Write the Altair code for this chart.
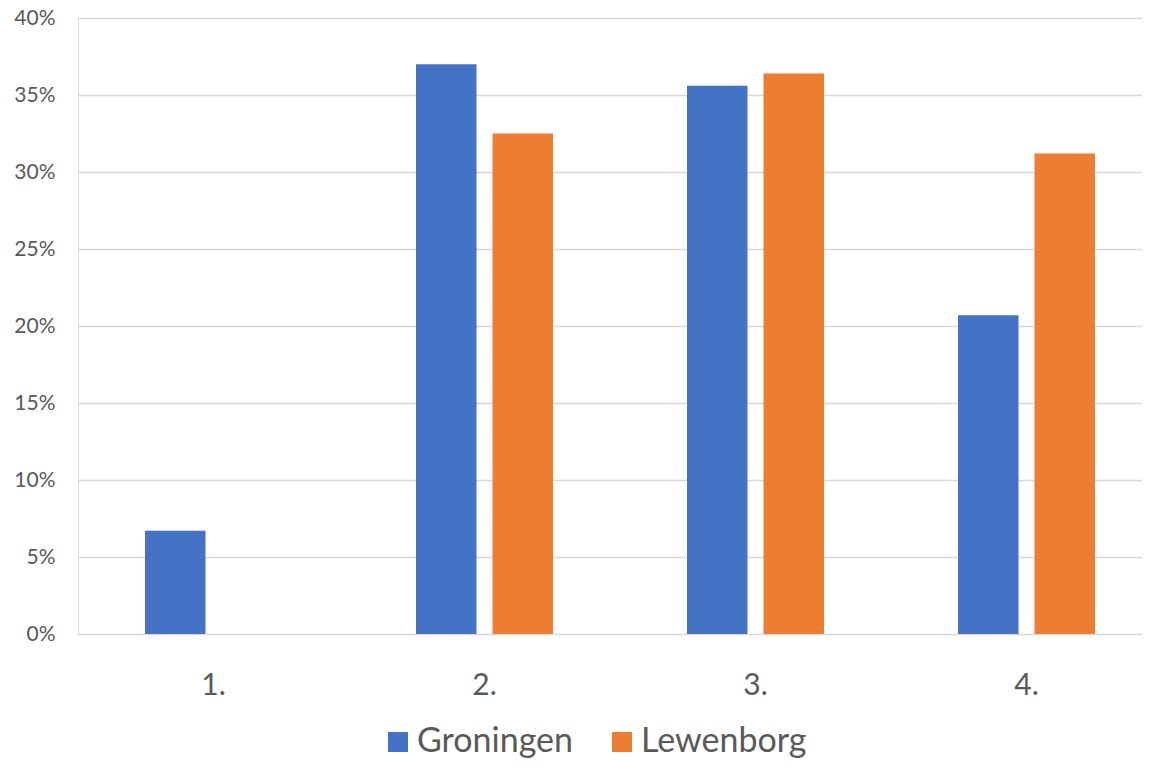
import altair as alt
import pandas as pd

categories = ["1.", "2.", "3.", "4."]
series = ["Groningen", "Lewenborg"]
groningen = [0.067, 0.370, 0.356, 0.207]
lewenborg = [None, 0.325, 0.364, 0.312]
colors = ["#4472C4", "#ED7D31"]
y_ticks = [0, 0.05, 0.10, 0.15, 0.20, 0.25, 0.30, 0.35, 0.40]

rows = []
for c, g, l in zip(categories, groningen, lewenborg):
    if g is not None:
        rows.append({"cat": c, "series": "Groningen", "value": g})
    if l is not None:
        rows.append({"cat": c, "series": "Lewenborg", "value": l})
df = pd.DataFrame(rows)

FONT = "Lato"
GREY = "#595959"

chart = alt.Chart(df).mark_bar().encode(
    x=alt.X("cat:N", sort=categories, title=None,
            scale=alt.Scale(domain=categories, range=[0, 1084], paddingInner=0, paddingOuter=0),
            axis=alt.Axis(labelAngle=0, labelFont=FONT, labelFontSize=30, labelColor=GREY,
                          ticks=False, tickSize=0, domain=False, labelPadding=36, grid=False)),
    xOffset=alt.XOffset("series:N", sort=series,
                        scale=alt.Scale(domain=series, paddingInner=0.209, paddingOuter=0.876)),
    y=alt.Y("value:Q", title=None,
            scale=alt.Scale(domain=[0, 0.4], nice=False),
            axis=alt.Axis(values=y_ticks, format=".0%", labelFont=FONT, labelFontSize=21,
                          labelColor=GREY, ticks=False, tickSize=0, domain=False,
                          labelPadding=23, gridColor="#D9D9D9", gridWidth=1.5)),
    color=alt.Color("series:N", sort=series,
                    scale=alt.Scale(domain=series, range=colors),
                    legend=alt.Legend(title=None, orient="none", direction="horizontal",
                                      legendX=303, legendY=707, symbolType="square",
                                      symbolSize=400, symbolStrokeWidth=0, labelFont=FONT,
                                      labelFontSize=34, labelColor=GREY, labelOffset=2,
                                      labelLimit=500, columnPadding=32)),
).properties(
    width=1064,
    height=616,
    autosize=alt.AutoSizeParams(type="none"),
    padding={"left": 70, "top": 10, "right": 0, "bottom": 128},
).configure_view(stroke=None).configure(background="white")

chart.save("out.html", embed_options={"renderer": "svg", "actions": False})
